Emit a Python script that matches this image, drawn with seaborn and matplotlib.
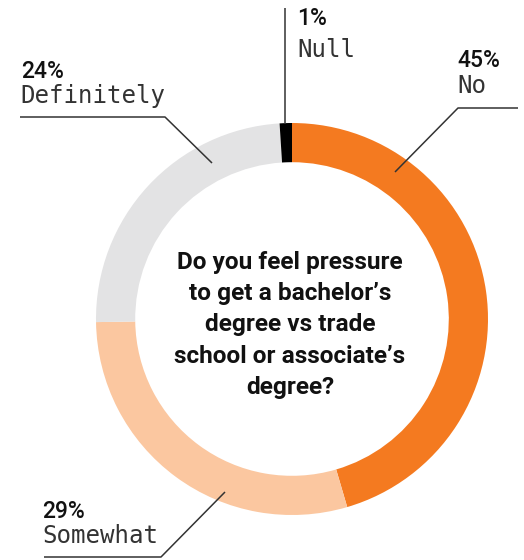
import matplotlib
matplotlib.use("Agg")
import matplotlib.pyplot as plt
import seaborn as sns

# ---- data ----
categories = ["No", "Somewhat", "Definitely", "Null"]
percents = [45, 29, 24, 1]
colors = ["#F47A20", "#FBC7A0", "#E3E3E4", "#000000"]
question = "Do you feel pressure\nto get a bachelor\u2019s\ndegree vs trade\nschool or associate\u2019s\ndegree?"

sns.set_theme(style="white")
plt.rcParams["font.family"] = ["DejaVu Sans"]

W, H = 524, 560
CX, CY, R = 292, 319, 196

fig = plt.figure(figsize=(W / 100, H / 100), dpi=100)
ax = fig.add_axes([0, 0, 1, 1])

ax.pie(percents, colors=colors, startangle=90, counterclock=False,
       radius=1.0, wedgeprops=dict(width=0.2, linewidth=0))

def P(px, py):
    return ((px - CX) / R, (CY - py) / R)

ax.set_xlim(-CX / R, (W - CX) / R)
ax.set_ylim(-(H - CY) / R, CY / R)
ax.set_aspect("auto")
ax.axis("off")

# center question
ax.text(*P(290, 325), question, ha="center", va="center", fontsize=17.6,
        fontweight="bold", family="Roboto", linespacing=1.45, color="#111111")

mono = dict(family="DejaVu Sans Mono", fontsize=17.4, color="#333333")
pct = dict(family="Roboto", fontsize=16.5, color="#111111", fontweight="medium")

labels = {
    "Null": ((297, 25), (297, 57)),
    "No": ((457, 67), (457, 93)),
    "Definitely": ((21, 78), (20, 103)),
    "Somewhat": ((42, 518), (42, 543)),
}
for cat, p in zip(categories, percents):
    (px1, py1), (px2, py2) = labels[cat]
    ax.text(*P(px1, py1), f"{p}%", ha="left", va="baseline", **pct)
    ax.text(*P(px2, py2), cat, ha="left", va="baseline", **mono)

lines = {
    "Null": [(285, 8), (285, 124)],
    "No": [(518, 108), (458, 108), (395, 172)],
    "Definitely": [(20, 117), (165, 117), (212, 163)],
    "Somewhat": [(44, 557), (161, 557), (225, 492)],
}
for cat, pts in lines.items():
    xs, ys = zip(*[P(x, y) for x, y in pts])
    ax.plot(xs, ys, color="#333333", lw=1.1, solid_capstyle="butt")

fig.savefig("out.png", dpi=100, facecolor="white")
